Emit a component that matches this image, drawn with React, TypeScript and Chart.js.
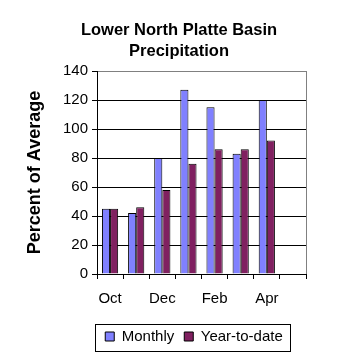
import React, { useEffect, useRef } from 'react';
import { Chart, registerables } from 'chart.js';

Chart.register(...registerables);

const categories = ['Oct', 'Nov', 'Dec', 'Jan', 'Feb', 'Mar', 'Apr', 'May'];
const monthly = [45, 42, 80, 127, 115, 83, 120, null];
const yearToDate = [45, 46, 58, 76, 86, 86, 92, null];
const yMin = 0;
const yMax = 140;
const yStep = 20;
const titleLines = ['Lower North Platte Basin', 'Precipitation'];
const yTitle = 'Percent of Average';

const FAMILY = '"Liberation Sans", Arial, sans-serif';

const framePlugin = {
  id: 'framePlugin',
  afterLayout(chart: any) {
    const L = chart.legend;
    if (L) {
      L.left += 30;
      L.right += 30;
    }
    const T = chart.titleBlock;
    if (T) {
      T.left += 15;
      T.right += 15;
    }
  },
  afterDraw(chart: any) {
    const { ctx, chartArea } = chart;
    ctx.save();
    ctx.strokeStyle = '#808080';
    ctx.lineWidth = 1;
    ctx.beginPath();
    ctx.moveTo(Math.round(chartArea.right) + 0.5, chartArea.top);
    ctx.lineTo(Math.round(chartArea.right) + 0.5, chartArea.bottom);
    ctx.stroke();
    const L = chart.legend;
    if (L && L.legendHitBoxes && L.legendHitBoxes.length) {
      const hb = L.legendHitBoxes;
      const first = hb[0];
      const last = hb[hb.length - 1];
      const x0 = first.left - 10;
      const x1 = last.left + last.width + 7;
      const cy = first.top + first.height / 2;
      ctx.strokeStyle = '#000';
      ctx.strokeRect(Math.round(x0) + 0.5, Math.round(cy - 13) + 0.5, Math.round(x1 - x0), 27);
    }
    ctx.restore();
  },
};

export default function App() {
  const ref = useRef<HTMLCanvasElement | null>(null);
  useEffect(() => {
    if (!ref.current) return;
    const chart = new Chart(ref.current, {
      type: 'bar',
      data: {
        labels: categories,
        datasets: [
          {
            label: 'Monthly',
            data: monthly,
            backgroundColor: '#8080FF',
            borderColor: '#000000',
            borderWidth: 1,
            categoryPercentage: 0.62,
            barPercentage: 1,
          },
          {
            label: 'Year-to-date',
            data: yearToDate,
            backgroundColor: '#802060',
            borderColor: '#000000',
            borderWidth: 1,
            categoryPercentage: 0.62,
            barPercentage: 1,
          },
        ],
      },
      options: {
        responsive: false,
        animation: false,
        devicePixelRatio: 1,
        layout: { padding: { left: 22, right: 52, top: 0, bottom: 4 } },
        plugins: {
          title: {
            display: true,
            text: titleLines,
            color: '#000',
            font: { family: FAMILY, size: 16.5, weight: 'bold', lineHeight: 1.3 },
            padding: { top: 19.6, bottom: 8.5 },
          },
          legend: {
            position: 'bottom',
            labels: {
              boxWidth: 9,
              boxHeight: 9,
              color: '#000',
              font: { family: FAMILY, size: 15 },
              padding: 10,
            },
          },
          tooltip: { enabled: false },
        },
        scales: {
          x: {
            offset: true,
            grid: {
              display: true,
              drawOnChartArea: false,
              drawTicks: true,
              tickLength: 5,
              color: '#000',
              offset: true,
            },
            border: { display: true, color: '#000', width: 1 },
            ticks: {
              autoSkip: false,
              maxRotation: 0,
              color: '#000',
              font: { family: FAMILY, size: 15 },
              padding: 11,
              callback: (_v: any, i: number) => (i % 2 === 0 ? categories[i] : ''),
            },
            afterFit: (s: any) => {
              s.height = 45;
            },
          },
          y: {
            min: yMin,
            max: yMax,
            ticks: {
              stepSize: yStep,
              color: '#000',
              font: { family: FAMILY, size: 15 },
              padding: 4,
            },
            grid: {
              color: (c: any) => (c.tick && c.tick.value === yMax ? '#808080' : '#000'),
              tickColor: '#000',
              tickLength: 5,
              drawTicks: true,
            },
            border: { display: true, color: '#000', width: 1 },
            title: {
              display: true,
              text: yTitle,
              color: '#000',
              font: { family: FAMILY, size: 18, weight: 'bold' },
              padding: { top: 2, bottom: 0 },
            },
            afterFit: (s: any) => {
              s.width = 75;
            },
          },
        },
      },
      plugins: [framePlugin],
    } as any);
    return () => chart.destroy();
  }, []);
  return (
    <div style={{ position: 'fixed', left: 0, top: 0, width: 358, height: 358, background: '#fff' }}>
      <canvas ref={ref} width={358} height={358} style={{ display: 'block' }} />
    </div>
  );
}
